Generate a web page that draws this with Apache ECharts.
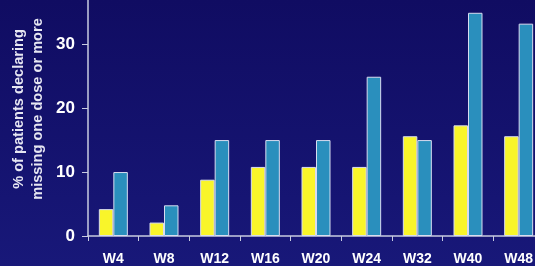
<!DOCTYPE html>
<html><head><meta charset="utf-8">
<script src="https://cdn.jsdelivr.net/npm/echarts@6/dist/echarts.min.js"></script>
<style>html,body{margin:0;padding:0;background:#12106a;}#c{width:535px;height:266px;}</style>
</head><body><div id="c"></div>
<script>
const categories = ['W4','W8','W12','W16','W20','W24','W32','W40','W48'];
const seriesA = [4.2, 2.1, 8.8, 10.8, 10.8, 10.8, 15.6, 17.3, 15.6];
const seriesB = [10, 4.8, 15, 15, 15, 24.9, 15, 34.9, 33.2];
const yTicks = [0, 10, 20, 30];
const yTitle = ['% of patients declaring', 'missing one dose or more'];

const chart = echarts.init(document.getElementById('c'), null, {renderer:'canvas'});
const font = 'Liberation Sans, Arial, sans-serif';
chart.setOption({
  backgroundColor: {type:'linear', x:0, y:0, x2:0, y2:1, colorStops:[{offset:0,color:'#100c62'},{offset:1,color:'#181879'}]},
  animation: false,
  grid: {left: 88, top: 0, width: 456, height: 236, outerBoundsMode: 'none', containLabel: false},
  graphic: [{
    type: 'text', x: 28, y: 109, rotation: Math.PI/2,
    style: {text: yTitle.join('\n'), fill: '#e6e6f2', font: 'bold 14.6px ' + font, align: 'center', verticalAlign: 'middle', lineHeight: 19}
  }],
  xAxis: {
    type: 'category', data: categories,
    axisLine: {lineStyle: {color: '#c8cce0', width: 1.5}},
    axisTick: {show: true, length: 5, lineStyle: {color: '#c8cce0'}},
    axisLabel: {color: '#ffffff', fontWeight: 'bold', fontSize: 14, fontFamily: font, margin: 16}
  },
  yAxis: {
    type: 'value', min: 0, max: 36.9, interval: 10,
    splitLine: {show: false},
    axisLine: {show: true, lineStyle: {color: '#c8cce0', width: 1.5}},
    axisTick: {show: true, inside: false, length: 6, lineStyle: {color: '#c8cce0'}},
    axisLabel: {color: '#ffffff', fontWeight: 'bold', fontSize: 17, fontFamily: font, margin: 13, showMaxLabel: false,
      formatter: v => yTicks.includes(v) ? String(v) : ''}
  },
  series: [
    {type: 'bar', data: seriesA, barWidth: 14.5, barGap: '0%',
     itemStyle: {color: '#f9f52a', borderColor: '#d8dcf0', borderWidth: 1}},
    {type: 'bar', data: seriesB, barWidth: 14.5, barGap: '0%',
     itemStyle: {color: '#2a8fbd', borderColor: '#d8dcf0', borderWidth: 1}}
  ]
});
</script></body></html>
